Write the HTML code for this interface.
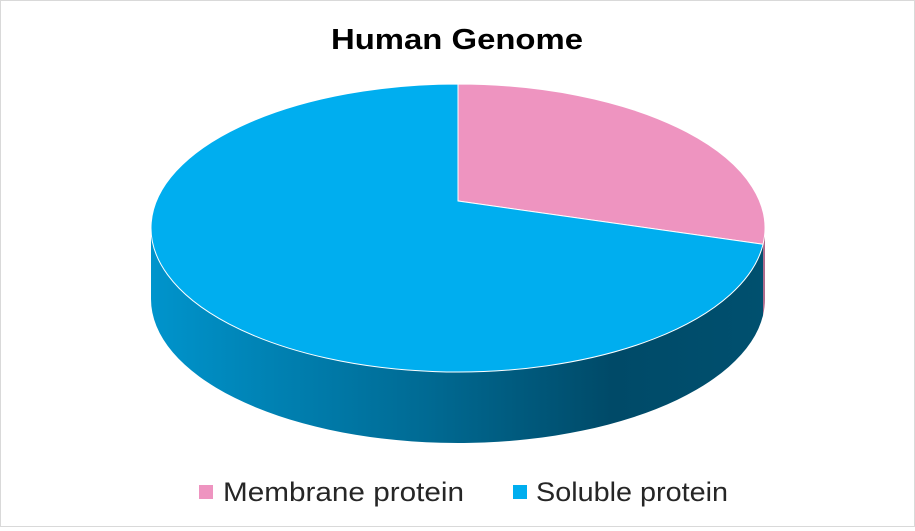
<!DOCTYPE html>
<html><head><meta charset="utf-8"><style>
body{margin:0;background:#fff;font-family:"Liberation Sans",sans-serif}
#c{position:relative;width:913px;height:525px;border:1px solid #d9d9d9}
</style></head><body>
<div id="c">
<svg width="913" height="525">
<defs>
<linearGradient id="side" x1="150" y1="0" x2="765" y2="0" gradientUnits="userSpaceOnUse">
<stop offset="0" stop-color="#0094cc"/><stop offset="0.45" stop-color="#006a93"/><stop offset="0.75" stop-color="#004a68"/><stop offset="1" stop-color="#00506f"/>
</linearGradient>
</defs>
<text x="330" y="48" font-size="29" font-weight="bold" fill="#000" textLength="252" lengthAdjust="spacingAndGlyphs">Human Genome</text>
<g id="pie"></g>
<rect x="198" y="484" width="14" height="14" fill="#ee94c0"/>
<text x="222" y="500" font-size="27" fill="#262626" textLength="241" lengthAdjust="spacingAndGlyphs">Membrane protein</text>
<rect x="512" y="484" width="14" height="14" fill="#00aeef"/>
<text x="535" y="500" font-size="27" fill="#262626" textLength="192" lengthAdjust="spacingAndGlyphs">Soluble protein</text>
</svg></div>
<script>
const categories=["Membrane protein","Soluble protein"];
const values=[26.8,73.2];
const colors=["#ee94c0","#00aeef"];
const sideColors=["#b06a8c","url(#side)"];
const cx=457,cy=227,rx=307,ry=144,depth=71,vy=200;
const g=document.getElementById('pie');
const NS="http://www.w3.org/2000/svg";
function pt(a,dy){return [cx+rx*Math.cos(a),cy+(dy||0)+ry*Math.sin(a)];}
const total=values.reduce((s,v)=>s+v,0);
let start=-Math.PI/2;const slices=[];
values.forEach((v,i)=>{const end=start+v/total*2*Math.PI;slices.push([start,end]);start=end;});
slices.forEach((s,i)=>{
  for(let k=-1;k<=1;k++){
    const off=k*2*Math.PI;
    const a1=Math.max(s[0]+off,0),a2=Math.min(s[1]+off,Math.PI);
    if(a2<=a1)continue;
    const p1=pt(a1),p2=pt(a2),p3=pt(a2,depth),p4=pt(a1,depth);
    const large=(a2-a1)>Math.PI?1:0;
    const d=`M${p1}A${rx},${ry} 0 ${large} 1 ${p2}L${p3}A${rx},${ry} 0 ${large} 0 ${p4}Z`;
    const p=document.createElementNS(NS,'path');
    p.setAttribute('d',d);p.setAttribute('fill',sideColors[i]);
    
    
    g.appendChild(p);
  }
});
slices.forEach((s,i)=>{
  const p1=pt(s[0]),p2=pt(s[1]);
  const large=(s[1]-s[0])>Math.PI?1:0;
  const p=document.createElementNS(NS,'path');
  p.setAttribute('d',`M${cx},${vy}L${p1}A${rx},${ry} 0 ${large} 1 ${p2}Z`);
  p.setAttribute('fill',colors[i]);p.setAttribute('stroke','#fff');p.setAttribute('stroke-width','1');
  
  
  g.appendChild(p);
});
</script>
</body></html>
